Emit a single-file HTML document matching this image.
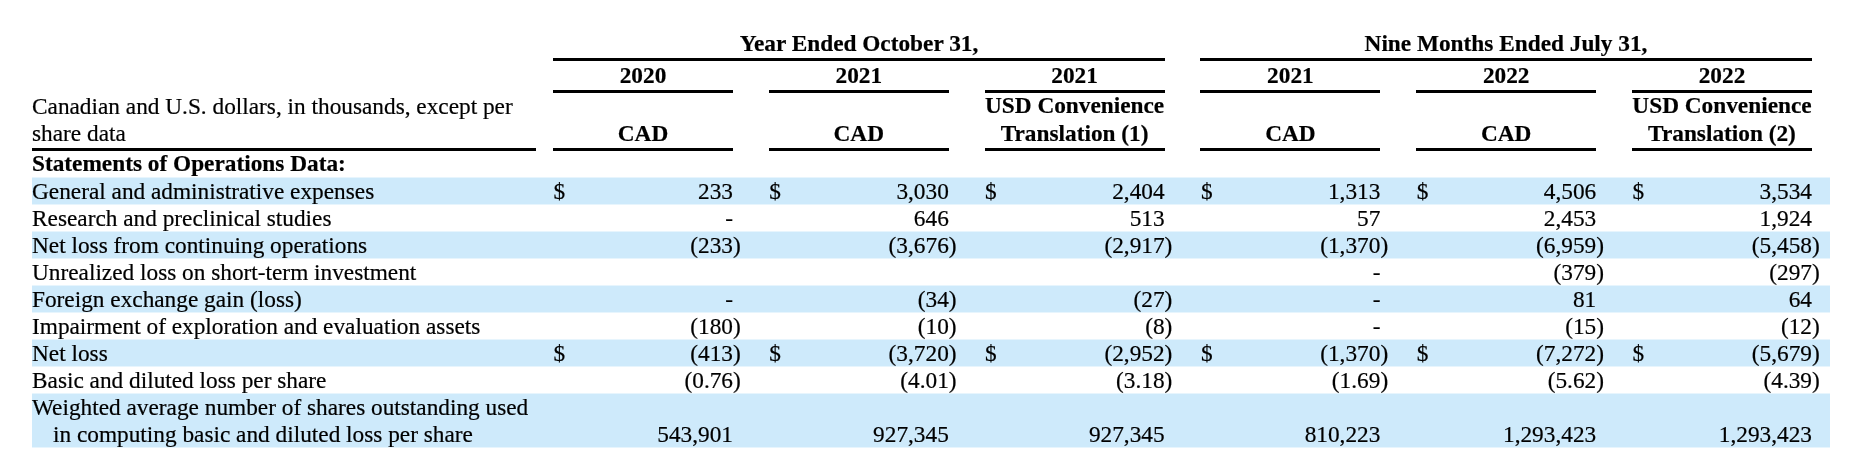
<!DOCTYPE html>
<html><head><meta charset="utf-8"><style>
html,body{margin:0;padding:0;background:#fff;}
body{width:1854px;height:464px;position:relative;overflow:hidden;}
.t{position:absolute;font-family:"Liberation Serif",serif;font-size:23.3px;line-height:27px;white-space:nowrap;color:#000;-webkit-text-stroke:0.2px #000;}
.r{position:absolute;}
#w{position:absolute;left:0;top:0;width:1854px;height:464px;will-change:transform;}
.p{margin-right:-7.767px;}
</style></head><body>
<div id="w">
<div class="r" style="left:32px;top:177px;width:1798px;height:1px;background:#e7f5fd"></div>
<div class="r" style="left:32px;top:178px;width:1798px;height:26px;background:#ceeafb"></div>
<div class="r" style="left:32px;top:204px;width:1798px;height:1px;background:#e7f5fd"></div>
<div class="r" style="left:32px;top:231px;width:1798px;height:1px;background:#e7f5fd"></div>
<div class="r" style="left:32px;top:232px;width:1798px;height:26px;background:#ceeafb"></div>
<div class="r" style="left:32px;top:258px;width:1798px;height:1px;background:#e7f5fd"></div>
<div class="r" style="left:32px;top:285px;width:1798px;height:1px;background:#e7f5fd"></div>
<div class="r" style="left:32px;top:286px;width:1798px;height:26px;background:#ceeafb"></div>
<div class="r" style="left:32px;top:312px;width:1798px;height:1px;background:#e7f5fd"></div>
<div class="r" style="left:32px;top:339px;width:1798px;height:1px;background:#e7f5fd"></div>
<div class="r" style="left:32px;top:340px;width:1798px;height:26px;background:#ceeafb"></div>
<div class="r" style="left:32px;top:366px;width:1798px;height:1px;background:#e7f5fd"></div>
<div class="r" style="left:32px;top:393px;width:1798px;height:1px;background:#e7f5fd"></div>
<div class="r" style="left:32px;top:394px;width:1798px;height:53px;background:#ceeafb"></div>
<div class="r" style="left:32px;top:447px;width:1798px;height:1px;background:#e7f5fd"></div>
<div class="r" style="left:553px;top:58px;width:612px;height:3px;background:#000"></div>
<div class="r" style="left:1200px;top:58px;width:612px;height:3px;background:#000"></div>
<div class="r" style="left:553px;top:90px;width:180px;height:3px;background:#000"></div>
<div class="r" style="left:553px;top:148px;width:180px;height:3px;background:#000"></div>
<div class="r" style="left:768.8px;top:90px;width:180px;height:3px;background:#000"></div>
<div class="r" style="left:768.8px;top:148px;width:180px;height:3px;background:#000"></div>
<div class="r" style="left:984.6px;top:90px;width:180px;height:3px;background:#000"></div>
<div class="r" style="left:984.6px;top:148px;width:180px;height:3px;background:#000"></div>
<div class="r" style="left:1200.4px;top:90px;width:180px;height:3px;background:#000"></div>
<div class="r" style="left:1200.4px;top:148px;width:180px;height:3px;background:#000"></div>
<div class="r" style="left:1416.2px;top:90px;width:180px;height:3px;background:#000"></div>
<div class="r" style="left:1416.2px;top:148px;width:180px;height:3px;background:#000"></div>
<div class="r" style="left:1632px;top:90px;width:180px;height:3px;background:#000"></div>
<div class="r" style="left:1632px;top:148px;width:180px;height:3px;background:#000"></div>
<div class="r" style="left:32px;top:148px;width:504px;height:3px;background:#000"></div>
<div class="t" style="left:553px;top:30.4px;width:612px;text-align:center;font-weight:bold;">Year Ended October 31,</div>
<div class="t" style="left:1200px;top:30.4px;width:612px;text-align:center;font-weight:bold;">Nine Months Ended July 31,</div>
<div class="t" style="left:553px;top:62.3px;width:180px;text-align:center;font-weight:bold;">2020</div>
<div class="t" style="left:768.8px;top:62.3px;width:180px;text-align:center;font-weight:bold;">2021</div>
<div class="t" style="left:984.6px;top:62.3px;width:180px;text-align:center;font-weight:bold;">2021</div>
<div class="t" style="left:1200.4px;top:62.3px;width:180px;text-align:center;font-weight:bold;">2021</div>
<div class="t" style="left:1416.2px;top:62.3px;width:180px;text-align:center;font-weight:bold;">2022</div>
<div class="t" style="left:1632px;top:62.3px;width:180px;text-align:center;font-weight:bold;">2022</div>
<div class="t" style="left:553px;top:119.80000000000001px;width:180px;text-align:center;font-weight:bold;">CAD</div>
<div class="t" style="left:768.8px;top:119.80000000000001px;width:180px;text-align:center;font-weight:bold;">CAD</div>
<div class="t" style="left:984.6px;top:92.4px;width:180px;text-align:center;font-weight:bold;">USD Convenience</div>
<div class="t" style="left:984.6px;top:119.80000000000001px;width:180px;text-align:center;font-weight:bold;">Translation (1)</div>
<div class="t" style="left:1200.4px;top:119.80000000000001px;width:180px;text-align:center;font-weight:bold;">CAD</div>
<div class="t" style="left:1416.2px;top:119.80000000000001px;width:180px;text-align:center;font-weight:bold;">CAD</div>
<div class="t" style="left:1632px;top:92.4px;width:180px;text-align:center;font-weight:bold;">USD Convenience</div>
<div class="t" style="left:1632px;top:119.80000000000001px;width:180px;text-align:center;font-weight:bold;">Translation (2)</div>
<div class="t" style="left:32px;top:92.7px;">Canadian and U.S. dollars, in thousands, except per</div>
<div class="t" style="left:32px;top:119.80000000000001px;">share data</div>
<div class="t" style="left:32px;top:150px;font-weight:bold;">Statements of Operations Data:</div>
<div class="t" style="left:32px;top:177.5px;">General and administrative expenses</div>
<div class="t" style="left:553.5px;top:177.5px;">$</div>
<div class="t" style="left:533px;top:177.5px;width:200px;text-align:right;">233</div>
<div class="t" style="left:769.3px;top:177.5px;">$</div>
<div class="t" style="left:748.8px;top:177.5px;width:200px;text-align:right;">3,030</div>
<div class="t" style="left:985.1px;top:177.5px;">$</div>
<div class="t" style="left:964.5999999999999px;top:177.5px;width:200px;text-align:right;">2,404</div>
<div class="t" style="left:1200.9px;top:177.5px;">$</div>
<div class="t" style="left:1180.4px;top:177.5px;width:200px;text-align:right;">1,313</div>
<div class="t" style="left:1416.7px;top:177.5px;">$</div>
<div class="t" style="left:1396.2px;top:177.5px;width:200px;text-align:right;">4,506</div>
<div class="t" style="left:1632.5px;top:177.5px;">$</div>
<div class="t" style="left:1612px;top:177.5px;width:200px;text-align:right;">3,534</div>
<div class="t" style="left:32px;top:204.5px;">Research and preclinical studies</div>
<div class="t" style="left:533px;top:204.5px;width:200px;text-align:right;">-</div>
<div class="t" style="left:748.8px;top:204.5px;width:200px;text-align:right;">646</div>
<div class="t" style="left:964.5999999999999px;top:204.5px;width:200px;text-align:right;">513</div>
<div class="t" style="left:1180.4px;top:204.5px;width:200px;text-align:right;">57</div>
<div class="t" style="left:1396.2px;top:204.5px;width:200px;text-align:right;">2,453</div>
<div class="t" style="left:1612px;top:204.5px;width:200px;text-align:right;">1,924</div>
<div class="t" style="left:32px;top:231.5px;">Net loss from continuing operations</div>
<div class="t" style="left:533px;top:231.5px;width:200px;text-align:right;">(233<span class="p">)</span></div>
<div class="t" style="left:748.8px;top:231.5px;width:200px;text-align:right;">(3,676<span class="p">)</span></div>
<div class="t" style="left:964.5999999999999px;top:231.5px;width:200px;text-align:right;">(2,917<span class="p">)</span></div>
<div class="t" style="left:1180.4px;top:231.5px;width:200px;text-align:right;">(1,370<span class="p">)</span></div>
<div class="t" style="left:1396.2px;top:231.5px;width:200px;text-align:right;">(6,959<span class="p">)</span></div>
<div class="t" style="left:1612px;top:231.5px;width:200px;text-align:right;">(5,458<span class="p">)</span></div>
<div class="t" style="left:32px;top:258.5px;">Unrealized loss on short-term investment</div>
<div class="t" style="left:1180.4px;top:258.5px;width:200px;text-align:right;">-</div>
<div class="t" style="left:1396.2px;top:258.5px;width:200px;text-align:right;">(379<span class="p">)</span></div>
<div class="t" style="left:1612px;top:258.5px;width:200px;text-align:right;">(297<span class="p">)</span></div>
<div class="t" style="left:32px;top:285.5px;">Foreign exchange gain (loss)</div>
<div class="t" style="left:533px;top:285.5px;width:200px;text-align:right;">-</div>
<div class="t" style="left:748.8px;top:285.5px;width:200px;text-align:right;">(34<span class="p">)</span></div>
<div class="t" style="left:964.5999999999999px;top:285.5px;width:200px;text-align:right;">(27<span class="p">)</span></div>
<div class="t" style="left:1180.4px;top:285.5px;width:200px;text-align:right;">-</div>
<div class="t" style="left:1396.2px;top:285.5px;width:200px;text-align:right;">81</div>
<div class="t" style="left:1612px;top:285.5px;width:200px;text-align:right;">64</div>
<div class="t" style="left:32px;top:312.5px;">Impairment of exploration and evaluation assets</div>
<div class="t" style="left:533px;top:312.5px;width:200px;text-align:right;">(180<span class="p">)</span></div>
<div class="t" style="left:748.8px;top:312.5px;width:200px;text-align:right;">(10<span class="p">)</span></div>
<div class="t" style="left:964.5999999999999px;top:312.5px;width:200px;text-align:right;">(8<span class="p">)</span></div>
<div class="t" style="left:1180.4px;top:312.5px;width:200px;text-align:right;">-</div>
<div class="t" style="left:1396.2px;top:312.5px;width:200px;text-align:right;">(15<span class="p">)</span></div>
<div class="t" style="left:1612px;top:312.5px;width:200px;text-align:right;">(12<span class="p">)</span></div>
<div class="t" style="left:32px;top:339.5px;">Net loss</div>
<div class="t" style="left:553.5px;top:339.5px;">$</div>
<div class="t" style="left:533px;top:339.5px;width:200px;text-align:right;">(413<span class="p">)</span></div>
<div class="t" style="left:769.3px;top:339.5px;">$</div>
<div class="t" style="left:748.8px;top:339.5px;width:200px;text-align:right;">(3,720<span class="p">)</span></div>
<div class="t" style="left:985.1px;top:339.5px;">$</div>
<div class="t" style="left:964.5999999999999px;top:339.5px;width:200px;text-align:right;">(2,952<span class="p">)</span></div>
<div class="t" style="left:1200.9px;top:339.5px;">$</div>
<div class="t" style="left:1180.4px;top:339.5px;width:200px;text-align:right;">(1,370<span class="p">)</span></div>
<div class="t" style="left:1416.7px;top:339.5px;">$</div>
<div class="t" style="left:1396.2px;top:339.5px;width:200px;text-align:right;">(7,272<span class="p">)</span></div>
<div class="t" style="left:1632.5px;top:339.5px;">$</div>
<div class="t" style="left:1612px;top:339.5px;width:200px;text-align:right;">(5,679<span class="p">)</span></div>
<div class="t" style="left:32px;top:366.5px;">Basic and diluted loss per share</div>
<div class="t" style="left:533px;top:366.5px;width:200px;text-align:right;">(0.76<span class="p">)</span></div>
<div class="t" style="left:748.8px;top:366.5px;width:200px;text-align:right;">(4.01<span class="p">)</span></div>
<div class="t" style="left:964.5999999999999px;top:366.5px;width:200px;text-align:right;">(3.18<span class="p">)</span></div>
<div class="t" style="left:1180.4px;top:366.5px;width:200px;text-align:right;">(1.69<span class="p">)</span></div>
<div class="t" style="left:1396.2px;top:366.5px;width:200px;text-align:right;">(5.62<span class="p">)</span></div>
<div class="t" style="left:1612px;top:366.5px;width:200px;text-align:right;">(4.39<span class="p">)</span></div>
<div class="t" style="left:32px;top:393.5px;">Weighted average number of shares outstanding used</div>
<div class="t" style="left:53px;top:420.5px;">in computing basic and diluted loss per share</div>
<div class="t" style="left:533px;top:420.5px;width:200px;text-align:right;">543,901</div>
<div class="t" style="left:748.8px;top:420.5px;width:200px;text-align:right;">927,345</div>
<div class="t" style="left:964.5999999999999px;top:420.5px;width:200px;text-align:right;">927,345</div>
<div class="t" style="left:1180.4px;top:420.5px;width:200px;text-align:right;">810,223</div>
<div class="t" style="left:1396.2px;top:420.5px;width:200px;text-align:right;">1,293,423</div>
<div class="t" style="left:1612px;top:420.5px;width:200px;text-align:right;">1,293,423</div>
</div>
</body></html>
